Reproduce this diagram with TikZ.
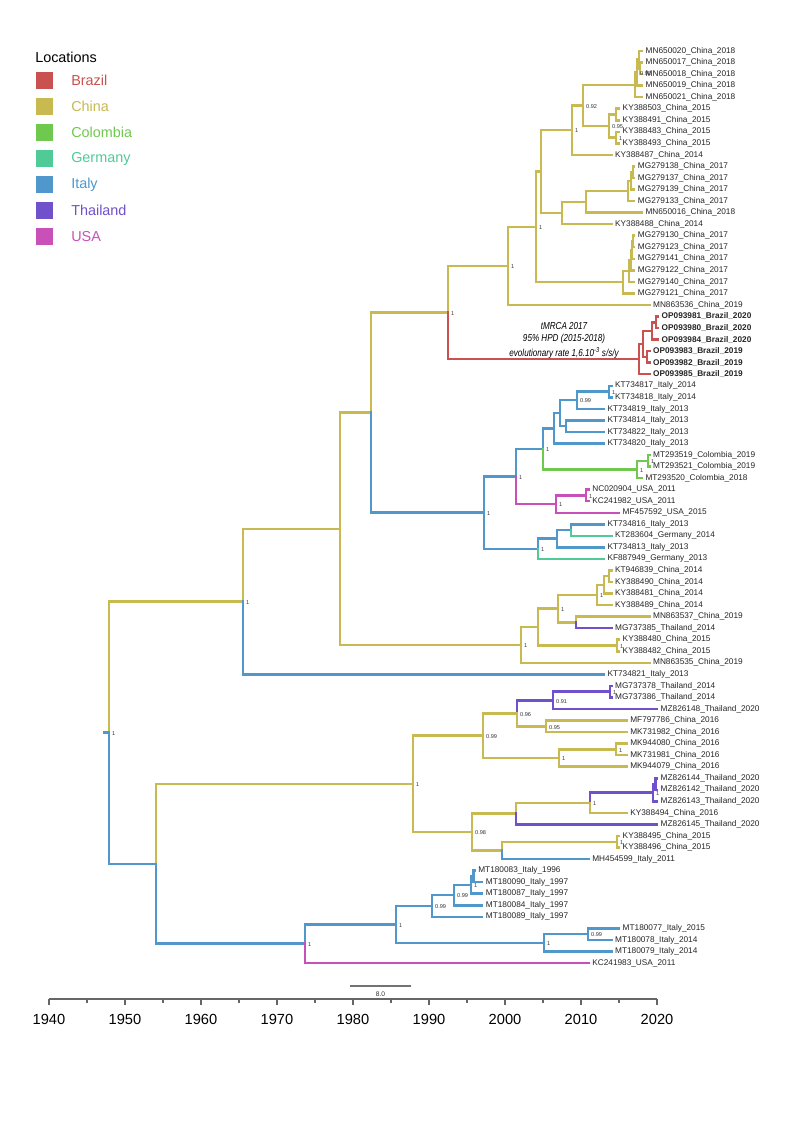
\documentclass[tikz,border=0pt]{standalone}
\usepackage{fontspec}
\setmainfont{Liberation Sans}
\usepackage{graphicx}
\definecolor{cBR}{HTML}{C9514F}
\definecolor{cCN}{HTML}{C8B951}
\definecolor{cCO}{HTML}{70C94F}
\definecolor{cDE}{HTML}{50CB98}
\definecolor{cIT}{HTML}{5097CB}
\definecolor{cTH}{HTML}{7150CB}
\definecolor{cUS}{HTML}{C950B9}
\tikzset{
  brl/.style={line width=1.85pt, line cap=rect},
  lab/.style={anchor=west, xshift=2.6pt, inner sep=0pt, font={\fontsize{6.2}{7}\selectfont}, text=black!85},
  sup/.style={anchor=west, xshift=2.2pt, yshift=-0.6pt, inner sep=0pt, font={\fontsize{4.2}{5}\selectfont}, text=black!80},
  ann/.style={inner sep=0pt, font={\fontsize{7.6}{9}\selectfont\itshape}, text=black},
  axl/.style={line width=0.9pt, draw=black!60},
  axt/.style={inner sep=0pt, font={\fontsize{11}{13}\selectfont}, text=black},
  sbar/.style={line width=1.1pt, draw=black!55},
  legsq/.style={inner sep=0pt, minimum size=12.75pt, draw=none},
  legt/.style={anchor=west, inner sep=0pt, font={\fontsize{10.8}{13}\selectfont}}
}
\newcommand{\tipn}[4]{\coordinate (#1) at (#2,#3); \node[lab] (#1l) at (#1) {#4};}
\newcommand{\inn}[3]{\coordinate (#1) at (#2,#3);}
\newcommand{\bre}[3]{\draw[brl,#1] (#2) |- (#3);}
\newcommand{\supv}[2]{\node[sup] (#1s) at (#1) {#2};}
\begin{document}
\begin{tikzpicture}[x=0.75pt,y=-0.75pt]
\fill[white] (0,0) rectangle (796,1125);
\useasboundingbox (0,0) rectangle (796,1125);

% ---------------- legend
\node[legt, text=black] (legtitle) at (35,57) {Locations};
\node[legsq, fill=cBR] (lq1) at (44.5,80.5) {};  \node[legt, text=cBR] (lt1) at (71,80.5) {Brazil};
\node[legsq, fill=cCN] (lq2) at (44.5,106.5) {}; \node[legt, text=cCN] (lt2) at (71,106.5) {China};
\node[legsq, fill=cCO] (lq3) at (44.5,132.5) {}; \node[legt, text=cCO] (lt3) at (71,132.5) {Colombia};
\node[legsq, fill=cDE] (lq4) at (44.5,158.5) {}; \node[legt, text=cDE] (lt4) at (71,158.5) {Germany};
\node[legsq, fill=cIT] (lq5) at (44.5,184.5) {}; \node[legt, text=cIT] (lt5) at (71,184.5) {Italy};
\node[legsq, fill=cTH] (lq6) at (44.5,210.5) {}; \node[legt, text=cTH] (lt6) at (71,210.5) {Thailand};
\node[legsq, fill=cUS] (lq7) at (44.5,236.5) {}; \node[legt, text=cUS] (lt7) at (71,236.5) {USA};

% ---------------- tips
\tipn{t1}{642}{51.0}{MN650020\_China\_2018}
\tipn{t2}{642}{62.5}{MN650017\_China\_2018}
\tipn{t3}{642}{74.1}{MN650018\_China\_2018}
\tipn{t4}{642}{85.6}{MN650019\_China\_2018}
\tipn{t5}{642}{97.2}{MN650021\_China\_2018}
\tipn{t6}{619}{108.7}{KY388503\_China\_2015}
\tipn{t7}{619}{120.3}{KY388491\_China\_2015}
\tipn{t8}{619}{131.8}{KY388483\_China\_2015}
\tipn{t9}{619}{143.4}{KY388493\_China\_2015}
\tipn{t10}{611.4}{154.9}{KY388487\_China\_2014}
\tipn{t11}{634.2}{166.4}{MG279138\_China\_2017}
\tipn{t12}{634.2}{178.0}{MG279137\_China\_2017}
\tipn{t13}{634.2}{189.5}{MG279139\_China\_2017}
\tipn{t14}{634.2}{201.1}{MG279133\_China\_2017}
\tipn{t15}{641.8}{212.6}{MN650016\_China\_2018}
\tipn{t16}{611.4}{224.2}{KY388488\_China\_2014}
\tipn{t17}{634.2}{235.7}{MG279130\_China\_2017}
\tipn{t18}{634.2}{247.2}{MG279123\_China\_2017}
\tipn{t19}{634.2}{258.8}{MG279141\_China\_2017}
\tipn{t20}{634.2}{270.3}{MG279122\_China\_2017}
\tipn{t21}{634.2}{281.9}{MG279140\_China\_2017}
\tipn{t22}{634.2}{293.4}{MG279121\_China\_2017}
\tipn{t23}{649.4}{305.0}{MN863536\_China\_2019}
\tipn{t24}{658}{316.5}{\bfseries OP093981\_Brazil\_2020}
\tipn{t25}{658}{328.1}{\bfseries OP093980\_Brazil\_2020}
\tipn{t26}{658}{339.6}{\bfseries OP093984\_Brazil\_2020}
\tipn{t27}{649.4}{351.1}{\bfseries OP093983\_Brazil\_2019}
\tipn{t28}{649.4}{362.7}{\bfseries OP093982\_Brazil\_2019}
\tipn{t29}{649.4}{374.2}{\bfseries OP093985\_Brazil\_2019}
\tipn{t30}{611.4}{385.8}{KT734817\_Italy\_2014}
\tipn{t31}{611.4}{397.3}{KT734818\_Italy\_2014}
\tipn{t32}{603.8}{408.9}{KT734819\_Italy\_2013}
\tipn{t33}{603.8}{420.4}{KT734814\_Italy\_2013}
\tipn{t34}{603.8}{432.0}{KT734822\_Italy\_2013}
\tipn{t35}{603.8}{443.5}{KT734820\_Italy\_2013}
\tipn{t36}{649.4}{455.0}{MT293519\_Colombia\_2019}
\tipn{t37}{649.4}{466.6}{MT293521\_Colombia\_2019}
\tipn{t38}{641.8}{478.1}{MT293520\_Colombia\_2018}
\tipn{t39}{588.6}{489.7}{NC020904\_USA\_2011}
\tipn{t40}{588.6}{501.2}{KC241982\_USA\_2011}
\tipn{t41}{619}{512.8}{MF457592\_USA\_2015}
\tipn{t42}{603.8}{524.3}{KT734816\_Italy\_2013}
\tipn{t43}{611.4}{535.8}{KT283604\_Germany\_2014}
\tipn{t44}{603.8}{547.4}{KT734813\_Italy\_2013}
\tipn{t45}{603.8}{558.9}{KF887949\_Germany\_2013}
\tipn{t46}{611.4}{570.5}{KT946839\_China\_2014}
\tipn{t47}{611.4}{582.0}{KY388490\_China\_2014}
\tipn{t48}{611.4}{593.6}{KY388481\_China\_2014}
\tipn{t49}{611.4}{605.1}{KY388489\_China\_2014}
\tipn{t50}{649.4}{616.7}{MN863537\_China\_2019}
\tipn{t51}{611.4}{628.2}{MG737385\_Thailand\_2014}
\tipn{t52}{619}{639.7}{KY388480\_China\_2015}
\tipn{t53}{619}{651.3}{KY388482\_China\_2015}
\tipn{t54}{649.4}{662.8}{MN863535\_China\_2019}
\tipn{t55}{603.8}{674.4}{KT734821\_Italy\_2013}
\tipn{t56}{611.4}{685.9}{MG737378\_Thailand\_2014}
\tipn{t57}{611.4}{697.5}{MG737386\_Thailand\_2014}
\tipn{t58}{657}{709.0}{MZ826148\_Thailand\_2020}
\tipn{t59}{626.6}{720.6}{MF797786\_China\_2016}
\tipn{t60}{626.6}{732.1}{MK731982\_China\_2016}
\tipn{t61}{626.6}{743.6}{MK944080\_China\_2016}
\tipn{t62}{626.6}{755.2}{MK731981\_China\_2016}
\tipn{t63}{626.6}{766.7}{MK944079\_China\_2016}
\tipn{t64}{657}{778.3}{MZ826144\_Thailand\_2020}
\tipn{t65}{657}{789.8}{MZ826142\_Thailand\_2020}
\tipn{t66}{657}{801.4}{MZ826143\_Thailand\_2020}
\tipn{t67}{626.6}{812.9}{KY388494\_China\_2016}
\tipn{t68}{657}{824.5}{MZ826145\_Thailand\_2020}
\tipn{t69}{619}{836.0}{KY388495\_China\_2015}
\tipn{t70}{619}{847.5}{KY388496\_China\_2015}
\tipn{t71}{588.6}{859.1}{MH454599\_Italy\_2011}
\tipn{t72}{474.6}{870.6}{MT180083\_Italy\_1996}
\tipn{t73}{482.2}{882.2}{MT180090\_Italy\_1997}
\tipn{t74}{482.2}{893.7}{MT180087\_Italy\_1997}
\tipn{t75}{482.2}{905.3}{MT180084\_Italy\_1997}
\tipn{t76}{482.2}{916.8}{MT180089\_Italy\_1997}
\tipn{t77}{619}{928.4}{MT180077\_Italy\_2015}
\tipn{t78}{611.4}{939.9}{MT180078\_Italy\_2014}
\tipn{t79}{611.4}{951.5}{MT180079\_Italy\_2014}
\tipn{t80}{588.6}{963.0}{KC241983\_USA\_2011}

% ---------------- internal nodes
\inn{K3}{640}{68.3} \inn{K2}{639}{59.65} \inn{K1}{637}{72.6} \inn{K}{635}{84.9}
\inn{La}{616}{114.5} \inn{Lb}{616}{137.6} \inn{Lc}{609}{126.05}
\inn{J}{583}{105.5} \inn{H1}{572}{130.2}
\inn{N2}{633}{172.2} \inn{N1}{631}{180.9} \inn{N}{628}{191} \inn{O}{586}{201.8} \inn{P}{562}{213}
\inn{Hp}{541}{171.6}
\inn{Q3}{633}{241.5} \inn{Q2}{632}{250.1} \inn{Q1a}{631}{260.2} \inn{Q1}{629}{271} \inn{Q}{623}{282.2}
\inn{H}{536}{226.9} \inn{G}{508}{266}
\inn{Bz20a}{656}{322.3} \inn{Bz20}{652}{331} \inn{Bz19a}{647}{356.9} \inn{X}{643}{344} \inn{Bz}{639}{359.1}
\inn{F}{448}{312.5}
\inn{I7a}{609}{391.6} \inn{I7}{577}{400.2} \inn{I8}{566}{426.2} \inn{I6}{560}{413.2} \inn{I5}{554}{428.3}
\inn{Co2}{648}{460.8} \inn{Co}{637}{469.5} \inn{I4}{543}{448.9}
\inn{Up}{586}{495.5} \inn{U}{556}{504.1} \inn{I2}{516}{476.5}
\inn{I10}{571}{530.1} \inn{I9}{557}{538.7} \inn{I3}{538}{548.8} \inn{I1}{484}{512.7}
\inn{D}{371}{412.6}
\inn{E6}{609}{576.2} \inn{E5}{604}{584.9} \inn{E3}{597}{595} \inn{E4}{576}{622.5} \inn{E2}{558}{608.7}
\inn{Ep}{617}{645.5} \inn{E1}{538}{627.1} \inn{E}{521}{645}
\inn{Y}{340}{528.8} \inn{A}{243}{601.6}
\inn{Thp}{610}{691.7} \inn{Th}{553}{700.4} \inn{M5}{546}{726.4} \inn{M3}{517}{713.4}
\inn{M4p}{616}{749.4} \inn{M4}{559}{758.1} \inn{M1}{483}{735.7}
\inn{Th2a}{655.5}{784.1} \inn{Th2}{653}{792.7} \inn{M8}{590}{802.8} \inn{M6}{516}{813.6}
\inn{M7p}{617}{841.8} \inn{M7}{502}{850.4} \inn{M2}{472}{832} \inn{LY}{413}{783.9}
\inn{V6}{473.5}{876.4} \inn{V5}{471}{885.1} \inn{V4}{454}{895.2} \inn{V2}{432}{906}
\inn{V7}{588}{934.2} \inn{V3}{544}{942.8} \inn{V1}{396}{924.4} \inn{LB}{305}{943.7}
\inn{Lo}{156}{863.8} \inn{R}{109}{732.7} \inn{R0}{104}{732.7}

% ---------------- branches
\draw[brl,cIT] (R0) -- (R);
\bre{cCN}{R}{A} \bre{cIT}{R}{Lo}
\bre{cCN}{A}{Y} \bre{cIT}{A}{t55}
\bre{cCN}{Y}{D} \bre{cCN}{Y}{E}
\bre{cCN}{D}{F} \bre{cIT}{D}{I1}
\bre{cCN}{F}{G} \bre{cBR}{F}{Bz}
\bre{cCN}{G}{H} \bre{cCN}{G}{t23}
\bre{cCN}{H}{Hp} \bre{cCN}{H}{Q}
\bre{cCN}{Hp}{H1} \bre{cCN}{Hp}{P}
\bre{cCN}{H1}{J} \bre{cCN}{H1}{t10}
\bre{cCN}{J}{K} \bre{cCN}{J}{Lc}
\bre{cCN}{K}{K1} \bre{cCN}{K}{t5}
\bre{cCN}{K1}{K2} \bre{cCN}{K1}{t4}
\bre{cCN}{K2}{t1} \bre{cCN}{K2}{K3}
\bre{cCN}{K3}{t2} \bre{cCN}{K3}{t3}
\bre{cCN}{Lc}{La} \bre{cCN}{Lc}{Lb}
\bre{cCN}{La}{t6} \bre{cCN}{La}{t7}
\bre{cCN}{Lb}{t8} \bre{cCN}{Lb}{t9}
\bre{cCN}{P}{O} \bre{cCN}{P}{t16}
\bre{cCN}{O}{N} \bre{cCN}{O}{t15}
\bre{cCN}{N}{N1} \bre{cCN}{N}{t14}
\bre{cCN}{N1}{N2} \bre{cCN}{N1}{t13}
\bre{cCN}{N2}{t11} \bre{cCN}{N2}{t12}
\bre{cCN}{Q}{Q1} \bre{cCN}{Q}{t22}
\bre{cCN}{Q1}{Q1a} \bre{cCN}{Q1}{t21}
\bre{cCN}{Q1a}{Q2} \bre{cCN}{Q1a}{t20}
\bre{cCN}{Q2}{Q3} \bre{cCN}{Q2}{t19}
\bre{cCN}{Q3}{t17} \bre{cCN}{Q3}{t18}
\bre{cBR}{Bz}{X} \bre{cBR}{Bz}{t29}
\bre{cBR}{X}{Bz20} \bre{cBR}{X}{Bz19a}
\bre{cBR}{Bz20}{Bz20a} \bre{cBR}{Bz20}{t26}
\bre{cBR}{Bz20a}{t24} \bre{cBR}{Bz20a}{t25}
\bre{cBR}{Bz19a}{t27} \bre{cBR}{Bz19a}{t28}
\bre{cIT}{I1}{I2} \bre{cIT}{I1}{I3}
\bre{cIT}{I2}{I4} \bre{cUS}{I2}{U}
\bre{cIT}{I4}{I5} \bre{cCO}{I4}{Co}
\bre{cIT}{I5}{I6} \bre{cIT}{I5}{t35}
\bre{cIT}{I6}{I7} \bre{cIT}{I6}{I8}
\bre{cIT}{I7}{I7a} \bre{cIT}{I7}{t32}
\bre{cIT}{I7a}{t30} \bre{cIT}{I7a}{t31}
\bre{cIT}{I8}{t33} \bre{cIT}{I8}{t34}
\bre{cCO}{Co}{Co2} \bre{cCO}{Co}{t38}
\bre{cCO}{Co2}{t36} \bre{cCO}{Co2}{t37}
\bre{cUS}{U}{Up} \bre{cUS}{U}{t41}
\bre{cUS}{Up}{t39} \bre{cUS}{Up}{t40}
\bre{cIT}{I3}{I9} \bre{cDE}{I3}{t45}
\bre{cIT}{I9}{I10} \bre{cIT}{I9}{t44}
\bre{cIT}{I10}{t42} \bre{cDE}{I10}{t43}
\bre{cCN}{E}{E1} \bre{cCN}{E}{t54}
\bre{cCN}{E1}{E2} \bre{cCN}{E1}{Ep}
\bre{cCN}{E2}{E3} \bre{cCN}{E2}{E4}
\bre{cCN}{E3}{E5} \bre{cCN}{E3}{t49}
\bre{cCN}{E5}{E6} \bre{cCN}{E5}{t48}
\bre{cCN}{E6}{t46} \bre{cCN}{E6}{t47}
\bre{cCN}{E4}{t50} \bre{cTH}{E4}{t51}
\bre{cCN}{Ep}{t52} \bre{cCN}{Ep}{t53}
\bre{cCN}{Lo}{LY} \bre{cIT}{Lo}{LB}
\bre{cCN}{LY}{M1} \bre{cCN}{LY}{M2}
\bre{cCN}{M1}{M3} \bre{cCN}{M1}{M4}
\bre{cTH}{M3}{Th} \bre{cCN}{M3}{M5}
\bre{cTH}{Th}{Thp} \bre{cTH}{Th}{t58}
\bre{cTH}{Thp}{t56} \bre{cTH}{Thp}{t57}
\bre{cCN}{M5}{t59} \bre{cCN}{M5}{t60}
\bre{cCN}{M4}{M4p} \bre{cCN}{M4}{t63}
\bre{cCN}{M4p}{t61} \bre{cCN}{M4p}{t62}
\bre{cCN}{M2}{M6} \bre{cCN}{M2}{M7}
\bre{cCN}{M6}{M8} \bre{cTH}{M6}{t68}
\bre{cTH}{M8}{Th2} \bre{cCN}{M8}{t67}
\bre{cTH}{Th2}{Th2a} \bre{cTH}{Th2}{t66}
\bre{cTH}{Th2a}{t64} \bre{cTH}{Th2a}{t65}
\bre{cCN}{M7}{M7p} \bre{cIT}{M7}{t71}
\bre{cCN}{M7p}{t69} \bre{cCN}{M7p}{t70}
\bre{cIT}{LB}{V1} \bre{cUS}{LB}{t80}
\bre{cIT}{V1}{V2} \bre{cIT}{V1}{V3}
\bre{cIT}{V2}{V4} \bre{cIT}{V2}{t76}
\bre{cIT}{V4}{V5} \bre{cIT}{V4}{t75}
\bre{cIT}{V5}{V6} \bre{cIT}{V5}{t74}
\bre{cIT}{V6}{t72} \bre{cIT}{V6}{t73}
\bre{cIT}{V3}{V7} \bre{cIT}{V3}{t79}
\bre{cIT}{V7}{t77} \bre{cIT}{V7}{t78}

% ---------------- support values
\supv{R}{1} \supv{A}{1} \supv{G}{1} \supv{H}{1} \supv{H1}{1} \supv{J}{0.92}
\supv{K1}{0.98} \supv{Lc}{0.95} \supv{Lb}{1} \supv{F}{1}
\supv{I7a}{1} \supv{I7}{0.99} \supv{I4}{1} \supv{Co}{1} \supv{Co2}{1}
\supv{Up}{1} \supv{U}{1} \supv{I2}{1} \supv{I1}{1} \supv{I3}{1}
\supv{E3}{1} \supv{E2}{1} \supv{Ep}{1} \supv{E}{1}
\supv{Thp}{1} \supv{Th}{0.91} \supv{M5}{0.95} \supv{M3}{0.96} \supv{M4p}{1} \supv{M4}{1}
\supv{M1}{0.99} \supv{Th2}{1} \supv{M8}{1} \supv{M7p}{1} \supv{M2}{0.98} \supv{LY}{1}
\supv{V5}{1} \supv{V4}{0.99} \supv{V2}{0.99} \supv{V7}{0.99} \supv{V3}{1} \supv{V1}{1} \supv{LB}{1}

% ---------------- annotation
\node[ann] (an1) at (564,326) {\scalebox{0.8}[1]{tMRCA 2017}};
\node[ann] (an2) at (564,339.3) {\scalebox{0.8}[1]{95\% HPD (2015-2018)}};
\node[ann] (an3) at (564,352.7) {\scalebox{0.8}[1]{evolutionary rate 1,6.10\textsuperscript{-3} s/s/y}};

% ---------------- scale bar
\coordinate (sb0) at (350,986); \coordinate (sb1) at (411,986);
\draw[sbar] (sb0) -- (sb1);
\node[inner sep=0pt, font={\fontsize{5}{6}\selectfont}, text=black!80] (sbl) at (380.5,994) {8.0};

% ---------------- axis
\coordinate (ax0) at (49,999); \coordinate (ax1) at (657,999);
\draw[axl] (ax0) -- (ax1);
\foreach \yr in {1940,1950,...,2020} {
  \coordinate (tk\yr) at ({49+7.6*(\yr-1940)},999);
  \draw[axl] (tk\yr) -- ++(0,6);
  \node[axt] (yl\yr) at ({49+7.6*(\yr-1940)},1019) {\yr};
}
\foreach \yr in {1945,1955,...,2015} {
  \coordinate (mk\yr) at ({49+7.6*(\yr-1940)},999);
  \draw[axl] (mk\yr) -- ++(0,3.5);
}
\end{tikzpicture}
\end{document}
